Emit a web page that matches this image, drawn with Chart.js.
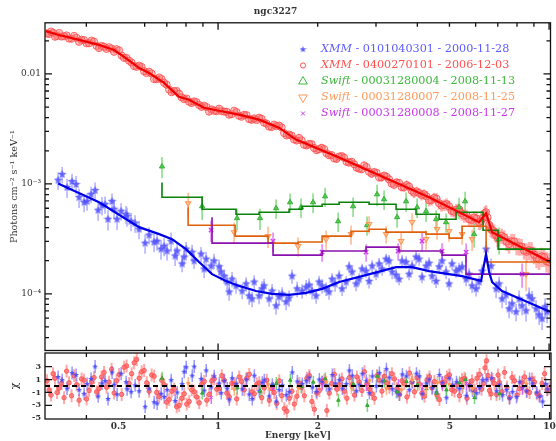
<!DOCTYPE html>
<html>
<head>
<meta charset="utf-8">
<script src="https://cdn.jsdelivr.net/npm/chart.js@4.4.1/dist/chart.umd.min.js"></script>
<style>
  body { margin: 0; background: #fff; }
  #wrap { position: relative; width: 556px; height: 441px; }
  #main { position: absolute; left: 0; top: 0; }
  #resid { position: absolute; left: 0; top: 345px; }
</style>
</head>
<body>
<div id="wrap">
  <canvas id="main" width="556" height="356"></canvas>
  <canvas id="resid" width="556" height="96"></canvas>
</div>
<script>
// ngc3227 - unfolded spectra (XMM + Swift) with chi residuals

const energyMin = 0.3, energyMax = 10.1;
const fluxMin = 3.05e-5, fluxMax = 0.0292;
const chiMin = -5.1, chiMax = 5.1;

const fluxTicks = [1e-4, 1e-3, 1e-2];
const fluxTickLabels = ['10⁻⁴', '10⁻³', '0.01'];
const fluxMinorTicks = [4e-5, 5e-5, 6e-5, 7e-5, 8e-5, 9e-5, 2e-4, 3e-4, 4e-4, 5e-4, 6e-4, 7e-4, 8e-4, 9e-4,
  2e-3, 3e-3, 4e-3, 5e-3, 6e-3, 7e-3, 8e-3, 9e-3, 2e-2];
const energyTicks = [0.5, 1, 2, 5, 10];
const energyTickLabels = ['0.5', '1', '2', '5', '10'];
const energyMinorTicks = [0.4, 0.6, 0.7, 0.8, 0.9, 2, 3, 4, 5, 6, 7, 8, 9];
const energyMajorTicks = [1, 10];
const chiTicks = [-5, -3, -1, 1, 3];
const chiTickLabels = ['-5', '-3', '-1', '1', '3'];

const obsInstrument = ['XMM', 'XMM', 'Swift', 'Swift', 'Swift'];
const obsId = ['0101040301', '0400270101', '00031280004', '00031280007', '00031280008'];
const obsDate = ['2000-11-28', '2006-12-03', '2008-11-13', '2008-11-25', '2008-11-27'];

// XMM 2000 (blue)
const blueE = [
  0.3286, 0.338, 0.3497, 0.3621, 0.3724, 0.3802, 0.3937, 0.4020, 0.4133, 0.425,
  0.434, 0.446, 0.4555, 0.465, 0.4782, 0.485, 0.4952, 0.5093, 0.5272, 0.5309,
  0.5459, 0.5613, 0.5771, 0.6018, 0.6187, 0.6406, 0.6541, 0.6726, 0.6869, 0.7013,
  0.7211, 0.7415, 0.7519,
  0.7785, 0.7895, 0.8005, 0.8346, 0.8462, 0.8885, 0.9073, 0.9199, 0.9525, 0.9725,
  1.007, 1.021, 1.043, 1.065, 1.080, 1.102, 1.133,
  1.182, 1.215, 1.241, 1.267, 1.285, 1.330, 1.358, 1.377, 1.426, 1.456,
  1.497, 1.528, 1.561, 1.605, 1.639, 1.673, 1.733, 1.794, 1.845, 1.884,
  1.923, 1.978, 2.019, 2.062, 2.120, 2.164, 2.210, 2.257,
  2.321, 2.369, 2.437, 2.488, 2.540, 2.612, 2.667, 2.723, 2.800, 2.859,
  2.920, 3.001, 3.065, 3.130, 3.218, 3.286, 3.356, 3.45, 3.523, 3.596,
  3.698, 3.776, 3.856, 3.965, 4.049, 4.133, 4.250, 4.340, 4.431, 4.557,
  4.652, 4.75, 4.884, 4.987, 5.092, 5.236, 5.347, 5.460, 5.614, 5.733,
  5.854, 6.02, 6.145, 6.275,
  6.452, 6.680, 6.917, 7.063, 7.211, 7.415, 7.571, 7.73, 7.950, 8.118,
  8.288, 8.52, 8.702, 8.885, 9.135, 9.329, 9.526, 9.725, 9.861
];
const blueF = [
  1.08e-3, 1.22e-3, 9.29e-4, 1.05e-3, 9.89e-4, 7.54e-4, 6.80e-4, 6.94e-4, 8.03e-4, 8.72e-4,
  5.76e-4, 6.38e-4, 6.52e-4, 4.77e-4, 6.94e-4, 5.88e-4, 4.77e-4, 5.64e-4, 5.30e-4, 5.08e-4,
  4.57e-4, 4.39e-4, 3.87e-4, 2.89e-4, 3.42e-4, 2.95e-4, 3.01e-4, 2.55e-4, 2.71e-4, 2.45e-4,
  3.01e-4, 2.21e-4, 2.45e-4,
  1.87e-4, 2.16e-4, 2.55e-4, 2.39e-4, 1.99e-4, 2.30e-4, 1.68e-4, 2.07e-4, 1.79e-4, 1.99e-4,
  1.76e-4, 1.58e-4, 1.45e-4, 1.28e-4, 1.04e-4, 1.36e-4, 1.18e-4,
  1.06e-4, 1.23e-4, 9.57e-5, 8.99e-5, 1.28e-4, 9.57e-5, 1.11e-4, 1.18e-4, 8.99e-5, 1.06e-4,
  7.77e-5, 9.37e-5, 9.98e-5, 8.44e-5, 9.18e-5, 1.45e-4, 1.11e-4, 1.06e-4, 1.15e-4, 1.20e-4,
  1.06e-4, 9.57e-5, 1.28e-4, 1.18e-4, 1.11e-4, 1.04e-4, 1.36e-4, 1.23e-4,
  1.45e-4, 1.11e-4, 1.28e-4, 1.76e-4, 1.58e-4, 1.23e-4, 1.36e-4, 1.68e-4, 1.61e-4, 1.30e-4,
  1.79e-4, 1.51e-4, 1.87e-4, 1.68e-4, 2.07e-4, 1.99e-4, 1.58e-4, 1.48e-4, 1.36e-4, 1.99e-4,
  1.94e-4, 1.51e-4, 1.79e-4, 2.16e-4, 2.07e-4, 1.42e-4, 1.79e-4, 1.90e-4, 1.45e-4, 1.30e-4,
  1.76e-4, 1.99e-4, 1.58e-4, 1.23e-4, 1.87e-4, 1.61e-4, 1.68e-4, 1.76e-4, 1.36e-4, 1.51e-4,
  1.18e-4, 1.11e-4, 1.28e-4, 1.61e-4,
  2.55e-4, 1.79e-4, 1.11e-4, 1.23e-4, 8.99e-5, 9.77e-5, 7.30e-5, 8.10e-5, 6.85e-5, 8.99e-5,
  7.77e-5, 7.00e-5, 9.57e-5, 8.99e-5, 7.30e-5, 6.44e-5, 5.93e-5, 7.61e-5, 6.85e-5
];
const blueErr = [
  0.18, 0.17, 0.20, 0.18, 0.19, 0.20, 0.19, 0.18, 0.17, 0.18,
  0.20, 0.19, 0.18, 0.21, 0.18, 0.19, 0.20, 0.18, 0.19, 0.20,
  0.19, 0.18, 0.19, 0.20, 0.18, 0.19, 0.18, 0.20, 0.19, 0.18,
  0.20, 0.19, 0.18,
  0.16, 0.15, 0.16, 0.17, 0.15, 0.16, 0.17, 0.16, 0.15, 0.16,
  0.16, 0.17, 0.15, 0.16, 0.17, 0.16, 0.15,
  0.16, 0.15, 0.17, 0.16, 0.15, 0.16, 0.17, 0.16, 0.15, 0.16,
  0.17, 0.16, 0.15, 0.16, 0.17, 0.15, 0.16, 0.15, 0.16, 0.15,
  0.16, 0.15, 0.14, 0.15, 0.14, 0.15, 0.14, 0.15,
  0.13, 0.14, 0.13, 0.12, 0.13, 0.14, 0.13, 0.12, 0.13, 0.14,
  0.13, 0.12, 0.13, 0.13, 0.12, 0.13, 0.14, 0.13, 0.12, 0.13,
  0.13, 0.12, 0.13, 0.14, 0.13, 0.12, 0.13, 0.13, 0.14, 0.13,
  0.12, 0.13, 0.14, 0.13, 0.12, 0.13, 0.14, 0.13, 0.14, 0.13,
  0.14, 0.15, 0.14, 0.15,
  0.16, 0.17, 0.18, 0.17, 0.18, 0.19, 0.18, 0.19, 0.18, 0.19,
  0.18, 0.2, 0.19, 0.18, 0.2, 0.19, 0.21, 0.2, 0.21
];
const blueModelE = [0.3286, 0.437, 0.577, 0.664, 0.726, 0.800, 0.876, 0.959, 1.057, 1.157, 1.303, 1.456, 1.639,
  1.845, 2.062, 2.321, 2.723, 3.45, 3.855, 4.34, 5.46, 6.23, 6.45, 6.59, 6.73, 7.21, 10.07];
const blueModelF = [1.01e-3, 6.80e-4, 4.04e-4, 3.49e-4, 3.14e-4, 2.55e-4, 1.95e-4, 1.51e-4, 1.31e-4, 1.18e-4,
  1.06e-4, 9.98e-5, 9.77e-5, 1.02e-4, 1.11e-4, 1.28e-4, 1.45e-4, 1.75e-4, 1.75e-4, 1.61e-4, 1.45e-4, 1.31e-4,
  2.30e-4, 1.58e-4, 1.28e-4, 1.06e-4, 6.86e-5];

// XMM 2006 (red), two interleaved sets of bins
const redE = [
  0.3043, 0.3129, 0.3217, 0.331, 0.3425, 0.3546, 0.3672, 0.3802, 0.3937, 0.4076,
  0.4220, 0.437, 0.4523, 0.4683, 0.485, 0.5021, 0.520, 0.5383, 0.5574, 0.5771,
  0.5975, 0.6187, 0.6406, 0.6633, 0.6869, 0.7112, 0.7364, 0.7625, 0.7895, 0.8173,
  0.8462, 0.8762, 0.9073, 0.9393, 0.9725, 1.007, 1.043, 1.080, 1.118, 1.157,
  1.198, 1.241, 1.285, 1.330, 1.377, 1.426, 1.476, 1.528, 1.583, 1.639,
  1.697, 1.757, 1.819, 1.884, 1.950, 2.019, 2.091, 2.164, 2.241, 2.321,
  2.403, 2.488, 2.576, 2.667, 2.762, 2.859, 2.961, 3.065, 3.173, 3.286,
  3.402, 3.523, 3.647, 3.776, 3.910, 4.049, 4.192, 4.340, 4.493, 4.652,
  4.817, 4.987, 5.164, 5.347, 5.537, 5.733, 5.936, 6.145, 6.318, 6.452,
  6.587, 6.73, 6.917, 7.063, 7.311, 7.571, 7.840, 8.118, 8.405, 8.702,
  9.010, 9.329, 9.659, 10.0
];
const redF = [
  0.0234, 0.0243, 0.0218, 0.0236, 0.0220, 0.0210, 0.0222, 0.0196, 0.0203, 0.0190,
  0.0197, 0.0172, 0.0177, 0.0175, 0.0159, 0.0164, 0.0140, 0.0132, 0.0118, 0.0119,
  0.0106, 0.0105, 0.00898, 0.00928, 0.00831, 0.00722, 0.00699, 0.00661, 0.00589, 0.00559,
  0.00563, 0.00522, 0.00514, 0.00454, 0.00463, 0.00483, 0.00454, 0.00426, 0.00463, 0.00417,
  0.00424, 0.00388, 0.00394, 0.00400, 0.00361, 0.00332, 0.00346, 0.00339, 0.00290, 0.00281,
  0.00254, 0.00262, 0.00227, 0.00231, 0.00212, 0.00207, 0.00207, 0.00182, 0.00171, 0.00177,
  0.00173, 0.00156, 0.00151, 0.00138, 0.00147, 0.00129, 0.00128, 0.00115, 0.00119, 0.00110,
  9.81e-4, 1.02e-3, 9.31e-4, 9.46e-4, 8.32e-4, 8.27e-4, 8.06e-4, 7.09e-4, 7.47e-4, 6.66e-4,
  6.45e-4, 6.25e-4, 5.58e-4, 5.88e-4, 5.14e-4, 4.77e-4, 4.93e-4, 4.48e-4, 4.89e-4, 5.52e-4,
  4.26e-4, 3.79e-4, 3.42e-4, 3.24e-4, 3.27e-4, 2.84e-4, 2.99e-4, 2.71e-4, 2.47e-4, 2.49e-4,
  2.27e-4, 2.06e-4, 2.16e-4, 1.93e-4
];
const redErr = [
  0.06, 0.05, 0.06, 0.05, 0.06, 0.05, 0.05, 0.06, 0.05, 0.06,
  0.05, 0.06, 0.05, 0.05, 0.06, 0.05, 0.06, 0.05, 0.06, 0.05,
  0.06, 0.05, 0.06, 0.06, 0.05, 0.06, 0.06, 0.07, 0.06, 0.06,
  0.07, 0.06, 0.06, 0.07, 0.06, 0.07, 0.06, 0.07, 0.06, 0.07,
  0.07, 0.06, 0.07, 0.07, 0.06, 0.07, 0.07, 0.06, 0.07, 0.07,
  0.07, 0.08, 0.07, 0.07, 0.08, 0.07, 0.08, 0.07, 0.08, 0.08,
  0.08, 0.07, 0.08, 0.08, 0.09, 0.08, 0.08, 0.09, 0.08, 0.09,
  0.09, 0.08, 0.09, 0.10, 0.11, 0.10, 0.11, 0.12, 0.11, 0.12,
  0.12, 0.13, 0.12, 0.13, 0.14, 0.13, 0.14, 0.15, 0.14, 0.16,
  0.15, 0.16, 0.15, 0.17, 0.16, 0.18, 0.17, 0.18, 0.17, 0.19,
  0.18, 0.20, 0.19, 0.21
];
const redE2 = [
  0.3086, 0.3173, 0.3263, 0.3367, 0.3485, 0.3608, 0.3737, 0.3869, 0.4006, 0.4147,
  0.4294, 0.4446, 0.4602, 0.4766, 0.4935, 0.5110, 0.5291, 0.5478, 0.5672, 0.5872,
  0.6080, 0.6296, 0.6518, 0.6750, 0.6989, 0.7237, 0.7493, 0.7759, 0.8033, 0.8316,
  0.8611, 0.8916, 0.9232, 0.9558, 0.9896, 1.025, 1.061, 1.099, 1.137, 1.177,
  1.219, 1.263, 1.307, 1.353, 1.401, 1.451, 1.502, 1.555, 1.611, 1.668,
  1.727, 1.788, 1.851, 1.917, 1.984, 2.055, 2.127, 2.202, 2.281, 2.362,
  2.445, 2.532, 2.621, 2.714, 2.810, 2.910, 3.013, 3.119, 3.229, 3.343,
  3.462, 3.584, 3.711, 3.842, 3.979, 4.120, 4.265, 4.416, 4.572, 4.734,
  4.901, 5.075, 5.255, 5.441, 5.634, 5.834, 6.040, 6.231, 6.385, 6.519,
  6.658, 6.823, 6.990, 7.186, 7.440, 7.704, 7.978, 8.260, 8.552, 8.855,
  9.168, 9.492, 9.828
];
const redF2 = [
  0.0231, 0.0237, 0.0222, 0.0219, 0.0224, 0.0209, 0.0213, 0.0205, 0.0190, 0.0201,
  0.0180, 0.0180, 0.0169, 0.0170, 0.0168, 0.0147, 0.0140, 0.0127, 0.0116, 0.0116,
  0.0102, 0.0101, 0.00895, 0.00897, 0.00799, 0.00682, 0.00700, 0.00613, 0.00597, 0.00544,
  0.00553, 0.00502, 0.00499, 0.00476, 0.00459, 0.00459, 0.00453, 0.00431, 0.00449, 0.00408,
  0.00422, 0.00383, 0.00381, 0.00391, 0.00353, 0.00329, 0.00335, 0.00327, 0.00276, 0.00275,
  0.00248, 0.00249, 0.00224, 0.00230, 0.00203, 0.00213, 0.00190, 0.00183, 0.00169, 0.00179,
  0.00159, 0.00159, 0.00141, 0.00136, 0.00142, 0.00124, 0.00126, 0.00115, 0.00116, 0.00101,
  1.03e-3, 9.36e-4, 9.76e-4, 8.69e-4, 8.54e-4, 7.92e-4, 7.71e-4, 7.13e-4, 7.33e-4, 6.35e-4,
  6.54e-4, 5.67e-4, 5.84e-4, 5.39e-4, 5.15e-4, 4.70e-4, 4.84e-4, 4.59e-4, 5.41e-4, 4.95e-4,
  3.90e-4, 3.71e-4, 3.20e-4, 3.38e-4, 2.99e-4, 3.00e-4, 2.74e-4, 2.69e-4, 2.41e-4, 2.45e-4,
  2.12e-4, 2.19e-4, 1.98e-4
];
const redErr2 = [
  0.05, 0.06, 0.05, 0.06, 0.05, 0.06, 0.05, 0.06, 0.05, 0.05,
  0.06, 0.05, 0.06, 0.05, 0.06, 0.05, 0.05, 0.06, 0.05, 0.06,
  0.05, 0.06, 0.06, 0.05, 0.07, 0.06, 0.06, 0.07, 0.06, 0.07,
  0.06, 0.07, 0.06, 0.07, 0.07, 0.06, 0.07, 0.06, 0.07, 0.06,
  0.07, 0.07, 0.06, 0.07, 0.07, 0.07, 0.06, 0.07, 0.07, 0.08,
  0.07, 0.07, 0.08, 0.07, 0.08, 0.08, 0.07, 0.08, 0.08, 0.07,
  0.08, 0.08, 0.09, 0.08, 0.08, 0.09, 0.08, 0.09, 0.09, 0.08,
  0.09, 0.09, 0.10, 0.11, 0.10, 0.11, 0.12, 0.11, 0.12, 0.12,
  0.13, 0.12, 0.13, 0.14, 0.13, 0.14, 0.15, 0.16, 0.15, 0.16,
  0.16, 0.15, 0.17, 0.16, 0.18, 0.17, 0.18, 0.17, 0.19, 0.20,
  0.19, 0.20, 0.21
];
const redModelE = [0.302, 0.331, 0.380, 0.437, 0.485, 0.520, 0.577, 0.619, 0.687, 0.762, 0.817, 0.907, 1.007,
  1.157, 1.330, 1.528, 1.720, 2.321, 4.34, 6.145, 6.452, 6.73, 10.07];
const redModelF = [0.0245, 0.0226, 0.0204, 0.0184, 0.0165, 0.0143, 0.01135, 0.0102, 0.0083, 0.0062, 0.00582,
  0.00493, 0.00463, 0.00426, 0.00384, 0.00325, 0.00253, 0.00174, 7.55e-4, 4.48e-4, 5.41e-4, 3.63e-4, 1.95e-4];

// Swift 00031280004 (green)
const greenE = [0.677, 0.895, 1.141, 1.339, 1.497, 1.650, 1.781, 1.936, 2.105, 2.305, 2.558, 2.819,
  3.022, 3.173, 3.474, 3.698, 3.993, 4.250, 4.557, 4.884, 5.347, 5.575, 5.936, 7.063];
const greenF = [1.44e-3, 6.25e-4, 4.88e-4, 4.88e-4, 6.0e-4, 6.8e-4, 6.12e-4, 6.8e-4, 7.7e-4, 4.57e-4, 6.25e-4, 4.21e-4,
  8.03e-4, 7.24e-4, 4.98e-4, 6.94e-4, 6.12e-4, 5.64e-4, 4.77e-4, 4.48e-4, 6.12e-4, 6.94e-4, 3.49e-4, 3.14e-4];
const greenErr = [0.22, 0.25, 0.22, 0.22, 0.2, 0.2, 0.2, 0.2, 0.2, 0.2, 0.2, 0.2,
  0.22, 0.2, 0.2, 0.2, 0.2, 0.2, 0.2, 0.2, 0.22, 0.22, 0.25, 0.28];
const greenModelE = [0.677, 0.895, 1.133, 1.330, 1.639, 1.794, 2.062, 2.321, 2.859, 3.45, 3.963, 4.653, 5.236,
  6.318, 7.015, 8.885, 10.1];
const greenModelF = [1.03e-3, 7.55e-4, 5.87e-4, 5.29e-4, 5.52e-4, 5.87e-4, 6.25e-4, 6.52e-4, 6.80e-4, 6.52e-4,
  5.87e-4, 5.29e-4, 4.77e-4, 5.52e-4, 3.79e-4, 2.55e-4, 2.55e-4];

// Swift 00031280007 (orange)
const orangeE = [0.812, 1.118, 1.416, 1.745, 2.120, 2.522, 2.859, 3.218, 3.572, 3.856, 4.250, 4.587, 4.987, 5.460, 5.854, 8.52];
const orangeF = [6.66e-4, 3.63e-4, 3.35e-4, 2.71e-4, 3.14e-4, 3.49e-4, 4.30e-4, 3.49e-4, 3.01e-4, 4.48e-4, 3.14e-4,
  3.87e-4, 3.71e-4, 3.49e-4, 3.14e-4, 1.51e-4];
const orangeErr = [0.25, 0.22, 0.22, 0.2, 0.2, 0.2, 0.18, 0.18, 0.18, 0.2, 0.2, 0.2, 0.2, 0.2, 0.22, 0.3];
const orangeModelE = [0.812, 1.126, 1.416, 1.745, 2.062, 2.522, 2.859, 3.218, 4.25, 4.99, 5.46, 6.452, 8.58, 10.1];
const orangeModelF = [6.12e-4, 4.21e-4, 3.35e-4, 2.89e-4, 2.96e-4, 3.35e-4, 3.71e-4, 3.87e-4, 3.64e-4, 3.49e-4,
  3.21e-4, 4.12e-4, 1.95e-4, 1.95e-4];

// Swift 00031280008 (purple)
const purpleE = [0.9525, 1.466, 2.062, 2.800, 3.498, 4.133, 4.75, 5.614, 8.288];
const purpleF = [3.79e-4, 3.01e-4, 2.39e-4, 2.39e-4, 2.45e-4, 3.01e-4, 2.45e-4, 2.39e-4, 1.51e-4];
const purpleErr = [0.22, 0.2, 0.18, 0.18, 0.18, 0.2, 0.18, 0.2, 0.25];
const purpleModelE = [0.959, 1.466, 2.062, 2.80, 3.52, 4.75, 5.61, 8.29, 10.1];
const purpleModelF = [4.97e-4, 2.89e-4, 2.25e-4, 2.45e-4, 2.66e-4, 2.45e-4, 2.25e-4, 1.51e-4, 1.51e-4];

// residuals (chi), errors are 1 sigma
const blueChi = [
  1.4, 0.9, -0.4, 2.0, 1.7, -0.6, -1.2, 0.3, 1.1, 3.0,
  -1.6, 0.4, 0.8, -2.0, 2.1, 0.2, -1.3, 1.9, 0.6, -0.5,
  -0.9, 0.1, -0.8, -3.2, -0.4, -2.5, -2.7, -1.2, -1.7, -0.6,
  0.9, -2.3, -1.0,
  0.3, 2.2, 2.9, 1.6, 3.0, 1.1, -0.7, 2.4, -0.2, 1.5,
  0.4, -1.1, 0.8, -0.4, -2.1, 1.2, 0.3,
  -0.5, 1.0, -1.3, -2.0, 1.6, -0.8, 0.5, 0.9, -1.6, 0.2,
  -2.4, -0.6, 0.1, -1.4, -0.9, 2.1, 0.7, 0.3, 0.8, 1.3,
  -0.2, -0.9, 1.0, 0.6, 0.1, -0.5, 1.7, 0.4,
  0.9, -0.4, 0.3, 2.4, 1.6, -0.8, 0.2, 1.9, 0.8, -1.1,
  1.5, 0.0, 2.0, 0.7, 2.6, 1.3, -0.5, -0.9, -1.3, 1.8,
  1.5, -0.6, 0.6, 1.9, 1.5, -1.2, 0.4, 1.0, -0.3, -1.0,
  1.7, 0.5, -1.8, 1.2, 0.2, 0.6, -0.4, -0.2, -1.5, 0.1,
  -0.7, -1.1, -0.3, 0.9,
  1.0, 1.2, -0.8, 0.2, -1.4, -0.6, -1.9, -0.9, -1.7, 0.6,
  -0.3, -0.8, 1.1, 0.4, -1.0, -1.6, -2.4, 0.3, -0.5
];
const redChi = [
  0.8, -1.4, 1.2, -0.3, -1.8, 0.5, 1.6, -2.2, 0.9, -0.7,
  1.3, -0.4, 2.1, 0.6, -1.1, 1.8, 2.9, 0.4, 3.6, 1.2,
  2.4, -0.8, 1.5, -1.6, 0.2, -2.1, -0.5, -3.0, -1.2, -2.4,
  -0.9, -2.6, 0.7, -1.3, 1.1, -0.4, 0.9, -1.7, 0.3, 1.4,
  -0.6, 1.8, -1.2, 0.5, -0.3, -2.2, -1.0, 0.8, -3.5, -1.9,
  -2.8, 0.4, -1.5, 1.6, -3.6, -0.7, 0.9, -1.1, 1.8, 0.2,
  -0.8, 1.3, -1.4, 0.6, 2.2, -0.5, -1.9, 0.9, 1.5, -0.2,
  1.1, -1.3, 0.4, 2.0, -0.9, 0.3, -1.6, 1.4, 0.7, -2.1,
  0.6, 1.7, -0.8, -1.5, 1.2, 0.1, -0.6, 1.8, 0.4, 3.9,
  -0.7, 1.0, -1.3, 0.5, 2.1, -1.8, 0.8, -0.4, 1.4, -1.0,
  0.6, -1.5, 1.9, -0.3
];
const redChi2 = [
  -0.6, 1.9, -1.0, 0.4, 2.3, -1.5, 0.2, 1.1, -2.0, 0.6,
  -0.9, 1.4, -0.2, 2.6, 0.8, -1.3, 3.1, 1.9, 4.1, 2.2,
  0.5, 1.7, -1.0, 0.9, -2.5, -0.8, -3.2, -1.9, -2.8, -0.6,
  -1.7, 0.3, -2.2, 0.8, -0.5, 1.6, -1.1, 0.4, -2.0, 0.7,
  1.2, -0.9, 0.3, -1.8, 0.9, -0.4, -2.7, -1.5, -3.9, -0.8,
  -1.6, -0.2, 1.2, -2.4, -1.1, 0.6, -3.8, 0.4, -0.5, 1.1,
  -1.9, 0.2, 1.4, -0.7, 0.3, -1.2, 1.6, -0.8, 0.5, 1.9,
  -0.4, 0.8, -1.7, 0.6, 1.3, -1.1, 0.9, -0.3, -1.4, 0.5,
  1.4, -0.6, 0.2, 1.0, -1.9, 0.8, 1.2, -0.5, 2.8, 1.6,
  -1.2, 0.4, 1.7, -0.9, -0.2, 1.3, -1.4, 0.6, -0.8, 1.1,
  -1.2, 0.4, -0.6
];
const greenChi = [1.2, -1.1, -0.3, -0.8, 0.4, 0.9, -0.1, 0.6, 1.1, -2.2, 0.3, -3.0,
  1.5, 0.8, -0.9, 0.7, 0.2, -0.4, -1.1, -0.6, 0.5, 1.0, -1.8, -1.2];
const orangeChi = [0.4, -0.5, 0.2, -0.3, 0.6, -0.2, 0.8, -0.4, -0.6, 0.9, -0.3, 0.5, 0.2, -0.1, -0.4, 0.3];
const purpleChi = [-1.8, -0.4, 0.3, 0.2, 0.1, -0.5, 0.2, 0.4, -0.3];
const chiSigma = 1;

Chart.defaults.font.family = 'DejaVu Serif';
Chart.defaults.color = '#333';

function pts(xs, ys) {
  return xs.map((x, i) => ({ x: x, y: ys[i] }));
}

function starImage(size, color) {
  const c = document.createElement('canvas');
  c.width = size; c.height = size;
  const g = c.getContext('2d');
  const r = size / 2, ri = r * 0.45;
  g.beginPath();
  for (let k = 0; k < 10; k++) {
    const rr = k % 2 ? ri : r;
    const a = -Math.PI / 2 + k * Math.PI / 5;
    g.lineTo(r + rr * Math.cos(a), r + rr * Math.sin(a));
  }
  g.closePath();
  g.fillStyle = color;
  g.fill();
  return c;
}

const blueStar = starImage(9, 'rgba(80,80,255,0.85)');
const blueStarSmall = starImage(6, 'rgba(70,70,255,0.9)');
const legendStar = starImage(7, 'rgba(80,80,255,0.9)');

// vertical error bars, drawn under the markers
const errorBars = {
  id: 'errorBars',
  beforeDatasetsDraw(chart) {
    const { ctx, chartArea: a, scales: { x, y } } = chart;
    ctx.save();
    ctx.beginPath();
    ctx.rect(a.left, a.top, a.right - a.left, a.bottom - a.top);
    ctx.clip();
    chart.data.datasets.forEach(ds => {
      if (!ds.yErr && !ds.errAbs) return;
      ctx.strokeStyle = ds.errColor;
      ctx.lineWidth = ds.errWidth || 1.5;
      ctx.beginPath();
      ds.data.forEach((p, i) => {
        const px = x.getPixelForValue(p.x);
        let lo, hi;
        if (ds.yErr) { lo = p.y * (1 - ds.yErr[i]); hi = p.y * (1 + ds.yErr[i]); }
        else { lo = p.y - ds.errAbs; hi = p.y + ds.errAbs; }
        ctx.moveTo(px, y.getPixelForValue(lo));
        ctx.lineTo(px, y.getPixelForValue(hi));
      });
      ctx.stroke();
    });
    ctx.restore();
  }
};

// box frame with inward ticks on all four sides
const frameTicks = {
  id: 'frameTicks',
  afterDatasetsDraw(chart, args, o) {
    const { ctx, chartArea: a, scales: { x, y } } = chart;
    ctx.save();
    ctx.strokeStyle = '#111';
    ctx.lineWidth = 1.3;
    ctx.strokeRect(a.left, a.top, a.right - a.left, a.bottom - a.top);
    ctx.beginPath();
    const xt = (vals, len) => vals.forEach(v => {
      const p = x.getPixelForValue(v);
      if (p <= a.left + 1 || p >= a.right - 1) return;
      ctx.moveTo(p, a.top); ctx.lineTo(p, a.top + len);
      ctx.moveTo(p, a.bottom); ctx.lineTo(p, a.bottom - len);
    });
    const yt = (vals, len) => vals.forEach(v => {
      const p = y.getPixelForValue(v);
      if (p <= a.top + 1 || p >= a.bottom - 1) return;
      ctx.moveTo(a.left, p); ctx.lineTo(a.left + len, p);
      ctx.moveTo(a.right, p); ctx.lineTo(a.right - len, p);
    });
    xt(o.xMinor, 4); xt(o.xMajor, 7);
    yt(o.yMinor, 4); yt(o.yMajor, 7);
    ctx.stroke();
    ctx.restore();
  }
};

// legend with italic instrument names
const obsLegend = {
  id: 'obsLegend',
  afterDraw(chart, args, o) {
    const ctx = chart.ctx;
    ctx.save();
    ctx.textBaseline = 'middle';
    o.items.forEach((it, i) => {
      const yy = o.y + i * o.step;
      ctx.fillStyle = it.fill;
      ctx.strokeStyle = it.color;
      Chart.helpers.drawPoint(ctx, { pointStyle: it.style, radius: it.r, rotation: it.rot || 0, borderWidth: 1 }, o.markX, yy);
      ctx.fillStyle = it.color;
      ctx.font = 'italic ' + o.size + 'px "DejaVu Serif"';
      ctx.fillText(obsInstrument[i], o.textX, yy);
      const w = ctx.measureText(obsInstrument[i]).width;
      ctx.font = o.size + 'px "DejaVu Serif"';
      ctx.fillText(' - ' + obsId[i] + ' - ' + obsDate[i], o.textX + w, yy);
    });
    ctx.restore();
  }
};

const redPoint = {
  pointStyle: 'circle', pointBackgroundColor: 'rgba(255,130,130,0.35)',
  pointBorderColor: 'rgba(255,70,70,0.8)', pointBorderWidth: 1
};

new Chart(document.getElementById('main'), {
  type: 'scatter',
  data: {
    datasets: [
      { data: pts(blueE, blueF), yErr: blueErr, errColor: 'rgba(120,120,255,0.6)',
        pointStyle: blueStar, order: 10 },
      Object.assign({ data: pts(redE, redF), yErr: redErr, errColor: 'rgba(255,110,110,0.55)', errWidth: 2.5,
        pointRadius: 3.6, order: 9 }, redPoint),
      Object.assign({ data: pts(redE2, redF2), yErr: redErr2, errColor: 'rgba(255,110,110,0.55)', errWidth: 2.5,
        pointRadius: 3.6, order: 9 }, redPoint),
      { data: pts(greenE, greenF), yErr: greenErr, errColor: 'rgba(90,205,90,0.75)',
        pointStyle: 'triangle', pointRadius: 3, pointBackgroundColor: '#50cc50', pointBorderColor: '#38b038', order: 8 },
      { data: pts(orangeE, orangeF), yErr: orangeErr, errColor: 'rgba(255,165,110,0.8)',
        pointStyle: 'triangle', pointRotation: 180, pointRadius: 3, pointBackgroundColor: 'rgba(255,255,255,0)',
        pointBorderColor: '#ff9955', pointBorderWidth: 1.2, order: 7 },
      { data: pts(purpleE, purpleF), yErr: purpleErr, errColor: 'rgba(220,90,240,0.8)',
        pointStyle: 'crossRot', pointRadius: 3, pointBorderColor: '#d040f0', pointBorderWidth: 1.5, order: 6 },
      { data: pts(greenModelE, greenModelF), showLine: true, stepped: 'after', pointRadius: 0,
        borderColor: '#0a820a', borderWidth: 1.6, order: 5 },
      { data: pts(orangeModelE, orangeModelF), showLine: true, stepped: 'after', pointRadius: 0,
        borderColor: '#e0600c', borderWidth: 1.6, order: 4 },
      { data: pts(purpleModelE, purpleModelF), showLine: true, stepped: 'after', pointRadius: 0,
        borderColor: '#8a10b0', borderWidth: 1.6, order: 3 },
      { data: pts(blueModelE, blueModelF), showLine: true, pointRadius: 0,
        borderColor: '#0000e6', borderWidth: 2.2, order: 2 },
      { data: pts(redModelE, redModelF), showLine: true, pointRadius: 0,
        borderColor: '#ee0000', borderWidth: 2.2, order: 1 }
    ]
  },
  options: {
    responsive: false,
    animation: false,
    layout: { padding: { top: 0, right: 5, bottom: 4, left: 0 } },
    scales: {
      x: { type: 'logarithmic', min: energyMin, max: energyMax, display: false },
      y: {
        type: 'logarithmic', min: fluxMin, max: fluxMax,
        afterBuildTicks: s => { s.ticks = fluxTicks.map(v => ({ value: v })); },
        afterFit: s => { s.width = 45; s.paddingTop = 0; s.paddingBottom = 0; },
        grid: { display: false, drawTicks: false },
        border: { display: false },
        ticks: { callback: (v, i) => fluxTickLabels[i], font: { size: 9 }, color: '#333', padding: 4 },
        title: { display: true, text: 'Photons cm⁻² s⁻¹ keV⁻¹', font: { size: 9.6 }, color: '#333',
          padding: { top: 9, bottom: 0 } }
      }
    },
    plugins: {
      legend: { display: false },
      tooltip: { enabled: false },
      title: { display: true, text: 'ngc3227', font: { size: 9, weight: 'bold' }, color: '#333',
        padding: { top: 6, bottom: 6 } },
      frameTicks: { xMinor: energyMinorTicks, xMajor: energyMajorTicks, yMinor: fluxMinorTicks, yMajor: fluxTicks },
      obsLegend: {
        markX: 303, textX: 321, y: 49.5, step: 16, size: 11.2,
        items: [
          { style: legendStar, r: 3, color: '#5c5cff', fill: '#5c5cff' },
          { style: 'circle', r: 2.6, color: '#ff5050', fill: 'rgba(255,255,255,0)' },
          { style: 'triangle', r: 5, color: '#3cb83c', fill: 'rgba(255,255,255,0)' },
          { style: 'triangle', r: 5, rot: 180, color: '#ff9a5a', fill: 'rgba(255,255,255,0)' },
          { style: 'crossRot', r: 2.8, color: '#c838e8', fill: 'rgba(255,255,255,0)' }
        ]
      }
    }
  },
  plugins: [errorBars, frameTicks, obsLegend]
});

const redResid = {
  errAbs: chiSigma, errColor: 'rgba(255,110,110,0.6)', errWidth: 2,
  pointStyle: 'circle', pointRadius: 2.2, pointBackgroundColor: 'rgba(255,100,100,0.7)',
  pointBorderColor: 'rgba(255,80,80,0.85)', pointBorderWidth: 1, order: 5
};

new Chart(document.getElementById('resid'), {
  type: 'scatter',
  data: {
    datasets: [
      Object.assign({ data: pts(redE, redChi) }, redResid),
      Object.assign({ data: pts(redE2, redChi2) }, redResid),
      { data: pts(blueE, blueChi), errAbs: chiSigma, errColor: 'rgba(110,110,255,0.7)',
        pointStyle: blueStarSmall, order: 4 },
      { data: pts(greenE, greenChi), errAbs: chiSigma, errColor: 'rgba(90,205,90,0.8)',
        pointStyle: 'triangle', pointRadius: 2, pointBackgroundColor: '#40c040', pointBorderColor: '#30a030', order: 3 },
      { data: pts(orangeE, orangeChi), errAbs: chiSigma, errColor: 'rgba(255,165,110,0.8)',
        pointStyle: 'triangle', pointRotation: 180, pointRadius: 2, pointBackgroundColor: '#ff9955',
        pointBorderColor: '#ff9955', order: 2 },
      { data: pts(purpleE, purpleChi), errAbs: chiSigma, errColor: 'rgba(220,90,240,0.85)',
        pointStyle: 'crossRot', pointRadius: 2, pointBorderColor: '#d040f0', order: 1 },
      { data: [{ x: energyMin, y: 0 }, { x: energyMax, y: 0 }], showLine: true, pointRadius: 0,
        borderColor: '#000', borderWidth: 2, borderDash: [5, 4], order: 0 }
    ]
  },
  options: {
    responsive: false,
    animation: false,
    layout: { padding: { top: 8, right: 5, bottom: 0, left: 0 } },
    scales: {
      x: {
        type: 'logarithmic', min: energyMin, max: energyMax,
        afterBuildTicks: s => { s.ticks = energyTicks.map(v => ({ value: v })); },
        afterFit: s => { s.height = 22; s.paddingLeft = 0; s.paddingRight = 0; },
        grid: { display: false, drawTicks: false },
        border: { display: false },
        ticks: { callback: (v, i) => energyTickLabels[i], autoSkip: false, maxRotation: 0,
          font: { size: 9, weight: 'bold' }, color: '#333', padding: 2 },
        title: { display: true, text: 'Energy [keV]', font: { size: 9, weight: 'bold' }, color: '#333',
          padding: { top: 0, bottom: 0 } }
      },
      y: {
        min: chiMin, max: chiMax,
        afterBuildTicks: s => { s.ticks = chiTicks.map(v => ({ value: v })); },
        afterFit: s => { s.width = 45; s.paddingTop = 0; s.paddingBottom = 0; },
        grid: { display: false, drawTicks: false },
        border: { display: false },
        ticks: { callback: (v, i) => chiTickLabels[i], font: { size: 8, weight: 'bold' }, color: '#333', padding: 4 },
        title: { display: true, text: 'χ', font: { size: 11 }, color: '#333', padding: { top: 9, bottom: 0 } }
      }
    },
    plugins: {
      legend: { display: false },
      tooltip: { enabled: false },
      frameTicks: { xMinor: energyMinorTicks, xMajor: energyMajorTicks, yMinor: [], yMajor: chiTicks }
    }
  },
  plugins: [errorBars, frameTicks]
});
</script>
</body>
</html>
